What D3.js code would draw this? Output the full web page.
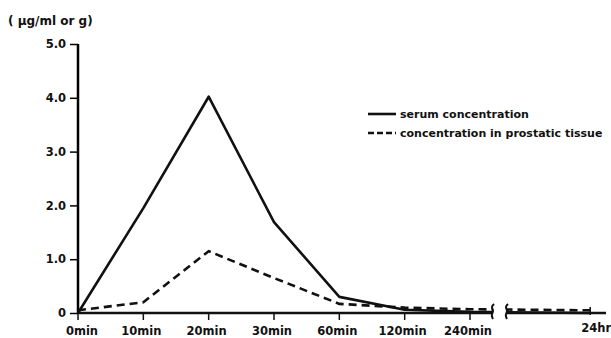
<!DOCTYPE html>
<html>
<head>
<meta charset="utf-8">
<script src="https://cdn.jsdelivr.net/npm/d3@7"></script>
<style>
  body { margin: 0; background: #fff; }
  text { font-family: "DejaVu Sans", Arial, sans-serif; font-weight: bold; fill: #111; }
</style>
</head>
<body>
<div id="chart-area"></div>
<script>
// time points (index on x), last one sits after the axis break
const times = ["0min", "10min", "20min", "30min", "60min", "120min", "240min", "24hr"]
const timePos = [0, 1, 2, 3, 4, 5, 6, 7.84]
const serum = [0, 1.95, 4.02, 1.69, 0.3, 0.06, 0.02, 0.0]
const prostate = [0.05, 0.2, 1.15, 0.65, 0.17, 0.1, 0.07, 0.05]
const yTicks = [0, 1, 2, 3, 4, 5]

const width = 611, height = 338
const svg = d3.select("#chart-area").append("svg")
    .attr("width", width)
    .attr("height", height)

const x = d3.scaleLinear().domain([0, 6]).range([78, 470])
const y = d3.scaleLinear().domain([0, 5]).range([313, 44])
const breakA = 493, breakB = 507

// clip out the break gap
const clip = svg.append("clipPath").attr("id", "brk")
clip.append("rect").attr("x", 0).attr("y", 0).attr("width", breakA).attr("height", height)
clip.append("rect").attr("x", breakB).attr("y", 0).attr("width", width - breakB).attr("height", height)

// y axis
const yAxis = svg.append("g")
    .attr("transform", "translate(78,0)")
    .call(d3.axisLeft(y).tickValues(yTicks).tickSize(8).tickPadding(4)
      .tickFormat(d => d == 0 ? "0" : d3.format(".1f")(d)))
yAxis.select(".domain").attr("d", "M0," + y(5) + "H0V" + y(0)).attr("stroke-width", 2.5)
yAxis.selectAll(".tick line").attr("stroke-width", 1.5)
yAxis.selectAll(".tick text").style("font-size", "11.5px")

// x axis
const xa = svg.append("g").attr("transform", "translate(0," + y(0) + ")")
xa.append("line").attr("x1", 78).attr("x2", breakA).attr("stroke", "#111").attr("stroke-width", 2.5)
xa.append("line").attr("x1", breakB).attr("x2", 606).attr("stroke", "#111").attr("stroke-width", 2.5)
xa.selectAll(".xt").data(times).join("line")
    .attr("x1", (d, i) => x(timePos[i])).attr("x2", (d, i) => x(timePos[i]))
    .attr("y1", (d, i) => i == 7 ? -6 : 0).attr("y2", (d, i) => i == 7 ? 2 : 7)
    .attr("stroke", "#111").attr("stroke-width", 1.5)
xa.selectAll(".xl").data(times).join("text")
    .attr("x", (d, i) => x(timePos[i]) + (i == 0 ? 4 : i == 7 ? 6 : -2))
    .attr("y", (d, i) => i == 7 ? 19 : 22)
    .attr("text-anchor", "middle")
    .style("font-size", "11.5px")
    .text(d => d)

// break squiggles
const brk = d3.line().curve(d3.curveBasis)
;[breakA, breakB].forEach(bx => {
  svg.append("path")
    .attr("d", brk([[bx + 1, y(0) - 9], [bx - 2, y(0) - 6], [bx + 1, y(0) - 2], [bx - 2, y(0) + 2], [bx, y(0) + 6]]))
    .attr("fill", "none").attr("stroke", "#111").attr("stroke-width", 2)
})

// series
const line = d3.line().x(d => x(d[0])).y(d => y(d[1]))
const serumPts = serum.map((v, i) => [timePos[i], v])
const prostPts = prostate.map((v, i) => [timePos[i], v])

svg.append("path").datum(serumPts)
    .attr("clip-path", "url(#brk)")
    .attr("d", line)
    .attr("fill", "none").attr("stroke", "#111").attr("stroke-width", 2.6)
    .attr("stroke-linejoin", "round")

svg.append("path").datum(prostPts)
    .attr("clip-path", "url(#brk)")
    .attr("d", line)
    .attr("fill", "none").attr("stroke", "#111").attr("stroke-width", 2.6)
    .attr("stroke-dasharray", "8,5")

// y label
svg.append("text").attr("x", 8).attr("y", 25)
    .style("font-size", "12px")
    .text("( \u03bcg/ml or g)")

// legend
const legend = [
  { label: "serum concentration", dash: null },
  { label: "concentration in prostatic tissue", dash: "6,3" }
]
const lg = svg.append("g")
lg.selectAll("line").data(legend).join("line")
    .attr("x1", 368).attr("x2", 396)
    .attr("y1", (d, i) => 114 + i * 19).attr("y2", (d, i) => 114 + i * 19)
    .attr("stroke", "#111").attr("stroke-width", 2.6)
    .attr("stroke-dasharray", d => d.dash)
lg.selectAll("text").data(legend).join("text")
    .attr("x", 400).attr("y", (d, i) => 118 + i * 19)
    .style("font-size", "11px")
    .text(d => d.label)
</script>
</body>
</html>
